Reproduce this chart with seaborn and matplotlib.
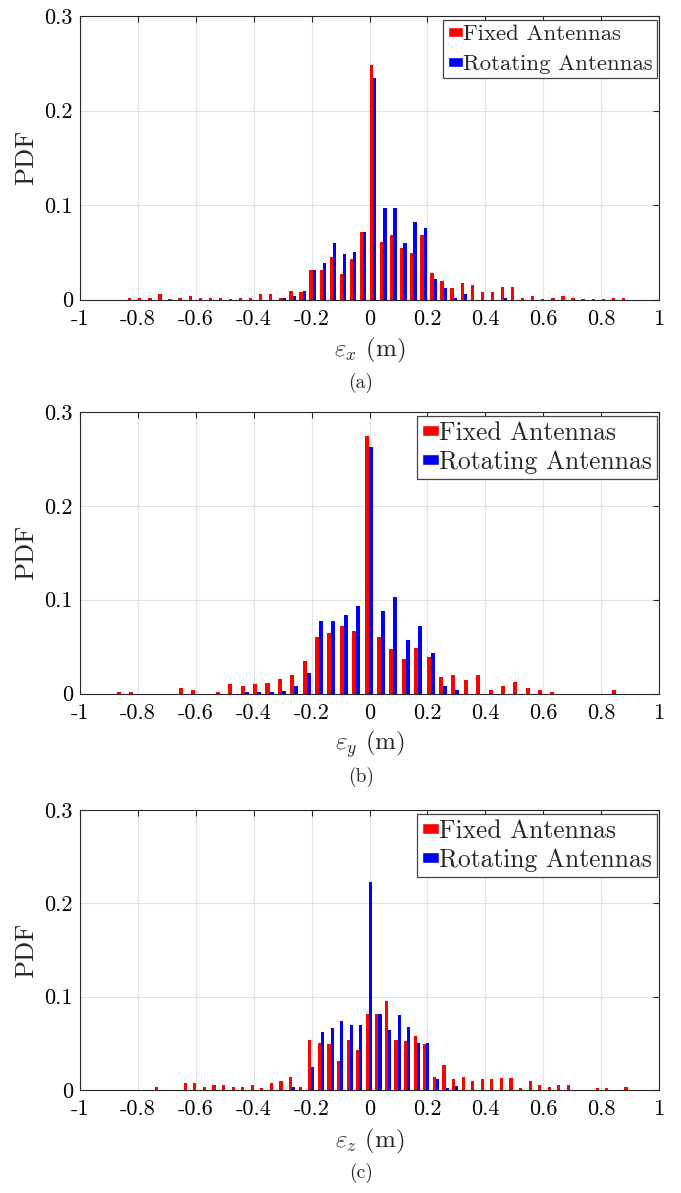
import numpy as np
import pandas as pd
import seaborn as sns
import matplotlib
matplotlib.use("Agg")
import matplotlib.pyplot as plt
from matplotlib.patches import Patch

# series names
fixed_name = "Fixed Antennas"
rot_name = "Rotating Antennas"

# (a) epsilon_x : 50 bins between -0.84 and 0.90
bins_a = (-0.8399, 0.9001, 50)
fixed_a = [0.002, 0.002, 0.002, 0.0057, 0.001, 0.002, 0.0035, 0.002, 0.002, 0.002,
           0.001, 0.002, 0.002, 0.0053, 0.0053, 0.0015, 0.0093, 0.0075, 0.031, 0.031,
           0.0445, 0.0275, 0.043, 0.0715, 0.248, 0.0604, 0.068, 0.0544, 0.0488, 0.068,
           0.0276, 0.0194, 0.0117, 0.0177, 0.0157, 0.0077, 0.0077, 0.0133, 0.0133, 0.002,
           0.0039, 0.001, 0.002, 0.0039, 0.002, 0.0007, 0.0007, 0.0007, 0.002, 0.002]
rot_a = [0, 0, 0, 0, 0, 0, 0, 0, 0, 0,
         0, 0, 0, 0, 0, 0.0015, 0.004, 0.009, 0.031, 0.0388,
         0.060, 0.0485, 0.0505, 0.0715, 0.234, 0.097, 0.097, 0.060, 0.0817, 0.0755,
         0.0212, 0.0117, 0.002, 0.006, 0, 0, 0, 0.002, 0, 0,
         0, 0, 0, 0, 0, 0, 0, 0, 0, 0]

# (b) epsilon_y : 41 bins between -0.88 and 0.87
bins_b = (-0.8804, 0.8744, 41)
fixed_b = [0.002, 0.002, 0, 0, 0, 0.0057, 0.004, 0, 0.0018, 0.0096,
           0.008, 0.0096, 0.0114, 0.0154, 0.0195, 0.035, 0.0603, 0.064, 0.0717, 0.0662,
           0.2745, 0.0606, 0.047, 0.0372, 0.0485, 0.0388, 0.0175, 0.0196, 0.014, 0.0196,
           0.004, 0.0079, 0.0118, 0.0057, 0.004, 0.002, 0, 0, 0, 0,
           0.004]
rot_b = [0, 0, 0, 0, 0, 0, 0, 0, 0, 0,
         0.002, 0.002, 0.002, 0.0025, 0.0083, 0.0215, 0.0777, 0.0777, 0.0835, 0.0932,
         0.263, 0.088, 0.103, 0.0565, 0.072, 0.0428, 0.0083, 0.0042, 0, 0,
         0, 0, 0, 0, 0, 0, 0, 0, 0, 0,
         0]

# (c) epsilon_z : 50 bins between -0.75 and 0.91
bins_c = (-0.747, 0.908, 50)
fixed_c = [0.0035, 0, 0, 0.0072, 0.0072, 0.0032, 0.0054, 0.0054, 0.0032, 0.0032,
           0.0054, 0.0018, 0.0072, 0.0099, 0.0136, 0.0036, 0.054, 0.0503, 0.0488, 0.031,
           0.054, 0.0427, 0.0817, 0.0818, 0.095, 0.054, 0.0525, 0.0583, 0.0488, 0.0136,
           0.0273, 0.0118, 0.0136, 0.0099, 0.0115, 0.0115, 0.0133, 0.0133, 0.0018, 0.0094,
           0.0054, 0.0036, 0.0054, 0.0054, 0, 0, 0.0018, 0.0018, 0, 0.0036]
rot_c = [0, 0, 0, 0, 0, 0, 0, 0, 0, 0,
         0, 0, 0, 0, 0.0036, 0, 0.0251, 0.062, 0.066, 0.0738,
         0.070, 0.070, 0.2225, 0.0818, 0.064, 0.080, 0.068, 0.0505, 0.0505, 0.0118,
         0.0022, 0.004, 0, 0, 0, 0, 0, 0, 0, 0,
         0, 0, 0, 0, 0, 0, 0, 0, 0, 0]

xticks = [-1, -0.8, -0.6, -0.4, -0.2, 0, 0.2, 0.4, 0.6, 0.8, 1]
xticklabels = ["-1", "-0.8", "-0.6", "-0.4", "-0.2", "0", "0.2", "0.4", "0.6", "0.8", "1"]
yticks = [0, 0.1, 0.2, 0.3]
yticklabels = ["0", "0.1", "0.2", "0.3"]

sns.set_style("white")
plt.rcParams["font.family"] = ["cmr10", "DejaVu Serif"]
plt.rcParams["mathtext.fontset"] = "cm"
plt.rcParams["axes.unicode_minus"] = False
plt.rcParams["axes.formatter.use_mathtext"] = True

# bins, fixed, rotating, xlabel, caption, axes top/bottom (px), legend size, legend row gap
panels = [
    (bins_a, fixed_a, rot_a, r"$\varepsilon_x$ (m)", "(a)", 16, 299.5, 16.4, 0.45),
    (bins_b, fixed_b, rot_b, r"$\varepsilon_y$ (m)", "(b)", 412, 693.5, 18.4, 0.2),
    (bins_c, fixed_c, rot_c, r"$\varepsilon_z$ (m)", "(c)", 810, 1090, 18.4, 0.2),
]

W, H = 681, 1193
fig = plt.figure(figsize=(W / 100, H / 100), dpi=100)
axis_col = "#262626"

for (lo, hi, n), fixed, rot, xlabel, cap, top, bottom, legsize, legsp in panels:
    h = bottom - top
    ax = fig.add_axes([80 / W, 1 - bottom / H, 579 / W, h / H])
    edges = np.linspace(lo, hi, n + 1)
    centers = (edges[:-1] + edges[1:]) / 2
    df = pd.DataFrame({
        "x": np.concatenate([centers, centers]),
        "pdf": fixed + rot,
        "antenna": [fixed_name] * n + [rot_name] * n,
    })
    sns.histplot(data=df, x="x", weights="pdf", hue="antenna",
                 hue_order=[fixed_name, rot_name], multiple="dodge",
                 bins=edges.tolist(), shrink=0.65, palette=["#ff0000", "#0000ff"],
                 alpha=1, linewidth=0, legend=False, ax=ax)
    ax.set_xlim(-1, 1)
    ax.set_ylim(0, 0.3)
    ax.set_xticks(xticks)
    ax.set_xticklabels(xticklabels)
    ax.set_yticks(yticks)
    ax.set_yticklabels(yticklabels)
    ax.grid(True, color="#e2e2e2", linewidth=0.8)
    ax.set_axisbelow(True)
    for s in ax.spines.values():
        s.set_color(axis_col)
        s.set_linewidth(0.8)
    ax.tick_params(direction="in", length=4, width=0.8, colors=axis_col,
                   labelcolor="black", labelsize=16, top=True, right=True)
    ax.tick_params(axis="x", pad=7)
    ax.tick_params(axis="y", pad=5)
    ax.set_xlabel(xlabel, fontsize=18, va="center")
    ax.xaxis.set_label_coords(0.5, -51 / h)
    ax.set_ylabel("PDF", fontsize=19, va="center")
    ax.yaxis.set_label_coords(-54 / 579, 0.5)

    handles = [Patch(facecolor="#ff0000", label=fixed_name),
               Patch(facecolor="#0000ff", label=rot_name)]
    leg = ax.legend(handles=handles, loc="upper right",
                    bbox_to_anchor=(1 - 2 / 579, 1 - 4 / h), fontsize=legsize,
                    frameon=True, fancybox=False, framealpha=1,
                    handlelength=0.66, handleheight=0.32, handletextpad=0.0,
                    borderpad=0.2, labelspacing=legsp, borderaxespad=0)
    leg.get_frame().set_edgecolor("#444444")
    leg.get_frame().set_linewidth(0.9)
    fig.text(361 / W, 1 - (bottom + 83) / H, cap, ha="center", va="center",
             fontsize=14)

fig.savefig("out.png", dpi=100)
